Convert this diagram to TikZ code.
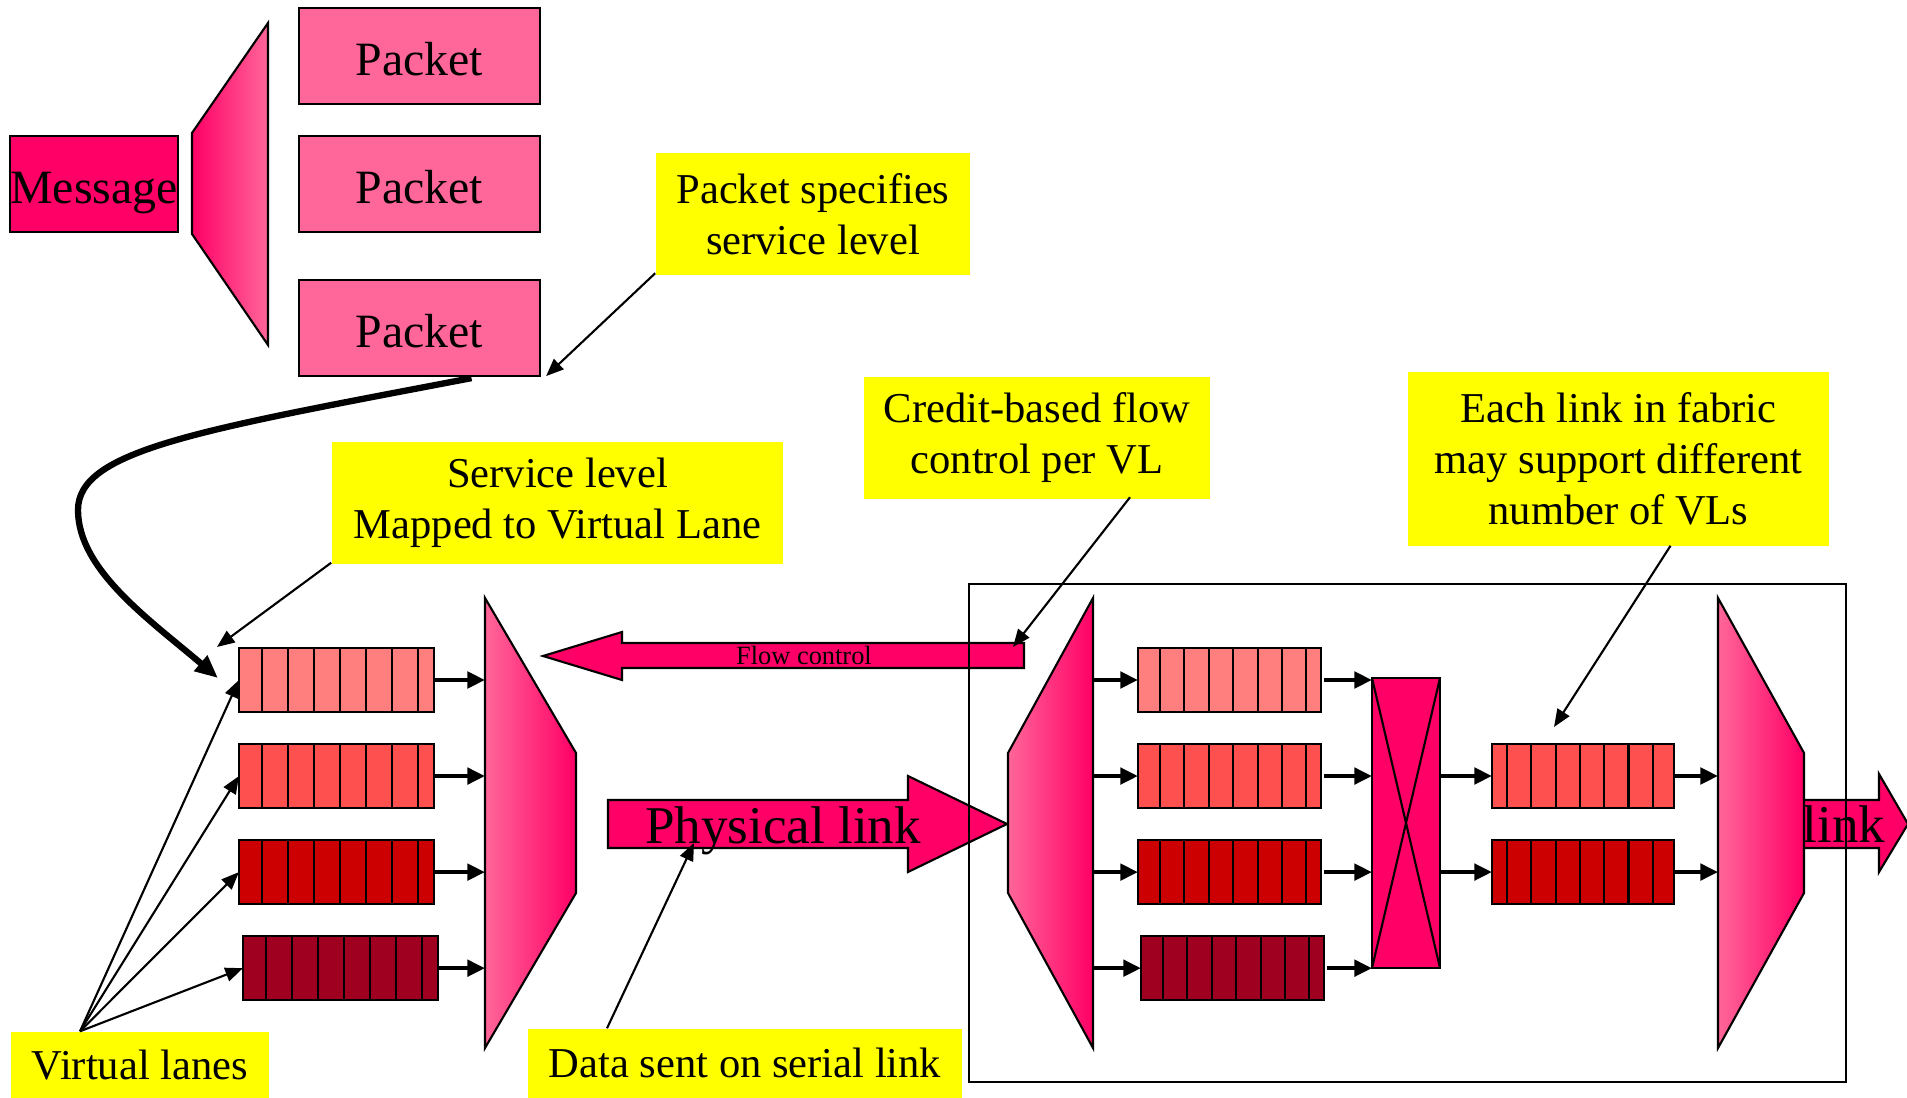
\documentclass[tikz,border=0pt]{standalone}
\usepackage{fontspec}
\setmainfont{Liberation Serif}
\usetikzlibrary{positioning,calc,arrows.meta}
\definecolor{msgpink}{HTML}{FF0066}
\definecolor{pktpink}{HTML}{FF6699}
\definecolor{noteyellow}{HTML}{FFFF00}
\definecolor{vlone}{HTML}{FF7F7F}
\definecolor{vltwo}{HTML}{FF5050}
\definecolor{vlthree}{HTML}{CC0000}
\definecolor{vlfour}{HTML}{A00020}
\tikzstyle{note}=[rectangle, fill=noteyellow, text centered, align=center, inner sep=0pt, font=\fontsize{12.1}{14.5}\selectfont]
\tikzstyle{pkt}=[rectangle, draw=black, line width=0.6pt, fill=pktpink, minimum width=2.41cm, minimum height=0.96cm, inner sep=0pt, outer sep=0pt, text height=0.44cm, text depth=0.05cm, font=\fontsize{13.6}{16}\selectfont]
\tikzstyle{vlq}=[rectangle, draw=black, line width=0.6pt, minimum height=0.64cm, inner sep=0pt, outer sep=0pt]
\tikzstyle{slot}=[line width=0.6pt]
\tikzstyle{mux}=[draw=black, line width=0.6pt, left color=pktpink, right color=msgpink]
\tikzstyle{bigarrow}=[draw=black, line width=0.6pt, fill=msgpink]
\tikzstyle{notearrow}=[-{Triangle[length=5pt, width=4pt]}, line width=0.6pt]
\tikzstyle{qarrow}=[-{Triangle[length=5pt, width=4.6pt]}, line width=1.2pt]
\tikzstyle{mainarrow}=[-{Triangle[length=6.5pt, width=5.5pt]}, line width=1.8pt]

\begin{document}
\begin{tikzpicture}[x=0.01cm, y=-0.01cm]
        \useasboundingbox (0,0) rectangle (1907,1098);

        % Message cut into packets
        \node (msg) [pkt, fill=msgpink, minimum width=1.64cm] at (94,184) {Message};
        \shadedraw[mux, left color=msgpink, right color=pktpink] (192,133) -- (268,23) -- (268,345) -- (192,234) -- cycle;
        \node (pkt2) [pkt] at (419.5,184) {Packet};
        \node (pkt1) [pkt, above=0.32cm of pkt2] {Packet};
        \node (pkt3) [pkt, below=0.48cm of pkt2] {Packet};

        % Notes
        \node (spec) [note, minimum width=3.14cm, minimum height=1.21cm] at (813,214) {Packet specifies\\service level};
        \node (svc) [note, minimum width=4.51cm, minimum height=1.22cm] at (557.5,503) {Service level\\Mapped to Virtual Lane};
        \node (credit) [note, minimum width=3.46cm, minimum height=1.21cm] at (1037,438) {Credit-based flow\\control per VL};
        \node (fabric) [note, minimum width=4.21cm, minimum height=1.74cm] at (1618.5,459) {Each link in fabric\\may support different\\number of VLs};
        \node (vlanes) [note, minimum width=2.58cm, minimum height=0.66cm, text height=0.31cm, text depth=0.03cm] at (140,1065) {Virtual lanes};
        \node (serial) [note, minimum width=4.34cm, minimum height=0.69cm, text height=0.31cm, text depth=0.03cm] at (745,1063.5) {Data sent on serial link};

        % Sending side: virtual lanes and mux
        \node (lq1) [vlq, fill=vlone, minimum width=1.95cm] at (336.5,680) {};
        \node (lq2) [vlq, fill=vltwo, minimum width=1.95cm, below=0.32cm of lq1] {};
        \node (lq3) [vlq, fill=vlthree, minimum width=1.95cm, below=0.32cm of lq2] {};
        \node (lq4) [vlq, fill=vlfour, minimum width=1.95cm, below=0.32cm of lq3, xshift=0.04cm] {};
        \foreach \q in {1,...,4}
            \foreach \k in {0,...,6}
                \draw[slot] ($(lq\q.north west)+(23+26*\k,0)$) -- ($(lq\q.south west)+(23+26*\k,0)$);

        \shadedraw[mux] (485,598) -- (576,753) -- (576,893) -- (485,1048) -- cycle;
        \coordinate (lmuxW) at (485,680);
        \foreach \q in {1,...,4}
            \draw[qarrow] (lq\q.east) -- (lq\q.east -| lmuxW);

        % Link and flow control
        \draw[bigarrow] (608,800) -- (908,800) -- (908,776) -- (1007,824) -- (908,872) -- (908,848) -- (608,848) -- cycle;
        \node (phys) [anchor=base, inner sep=0pt, font=\fontsize{15.1}{18}\selectfont] at (783,843) {Physical link};
        \coordinate (physdata) at (694,843);
        \draw[bigarrow] (1024,643) -- (622,643) -- (622,632) -- (543,656) -- (622,680) -- (622,668) -- (1024,668) -- cycle;
        \node (flow) [anchor=base, inner sep=0pt, font=\fontsize{7.5}{9}\selectfont] at (804,665) {Flow control};
        \coordinate (flowend) at (1013,647);

        % Receiving side: demux, virtual lanes, crossbar
        \shadedraw[mux] (1093,598) -- (1093,1048) -- (1008,893) -- (1008,753) -- cycle;
        \coordinate (rdemuxE) at (1093,680);
        \node (rq1) [vlq, fill=vlone, minimum width=1.83cm] at (1229.5,680) {};
        \node (rq2) [vlq, fill=vltwo, minimum width=1.83cm, below=0.32cm of rq1] {};
        \node (rq3) [vlq, fill=vlthree, minimum width=1.83cm, below=0.32cm of rq2] {};
        \node (rq4) [vlq, fill=vlfour, minimum width=1.83cm, below=0.32cm of rq3, xshift=0.03cm] {};
        \foreach \q in {1,...,4}
            \foreach \k in {0,...,6}
                \draw[slot] ($(rq\q.north west)+(22+24.4*\k,0)$) -- ($(rq\q.south west)+(22+24.4*\k,0)$);
        \foreach \q in {1,...,4}
            \draw[qarrow] (rq\q.west -| rdemuxE) -- (rq\q.west);

        \node (xbar) [rectangle, draw=black, line width=0.6pt, fill=msgpink, minimum width=0.68cm, minimum height=2.9cm, inner sep=0pt, outer sep=0pt] at (1406,823) {};
        \draw[slot] (xbar.north west) -- (xbar.south east);
        \draw[slot] (xbar.north east) -- (xbar.south west);
        \foreach \q in {1,...,4}
            \draw[qarrow] ($(rq\q.east)+(3,0)$) -- (rq\q.east -| xbar.west);

        % Next link
        \node (rqa) [vlq, fill=vltwo, minimum width=1.82cm] at (1583,776) {};
        \node (rqb) [vlq, fill=vlthree, minimum width=1.82cm, below=0.32cm of rqa] {};
        \foreach \q in {a,b}
            \foreach \k in {0,...,6}
                \draw[slot] ($(rq\q.north west)+(15+24.3*\k,0)$) -- ($(rq\q.south west)+(15+24.3*\k,0)$);
        \foreach \q in {a,b}
            \draw[qarrow] (xbar.east |- rq\q.west) -- (rq\q.west);

        \draw[bigarrow] (1760,800) -- (1879,800) -- (1879,774) -- (1908,824) -- (1879,872) -- (1879,848) -- (1760,848) -- cycle;
        \node (linkout) [anchor=base, inner sep=0pt, font=\fontsize{15.1}{18}\selectfont] at (1844,842) {link};
        \shadedraw[mux] (1718,598) -- (1804,753) -- (1804,893) -- (1718,1048) -- cycle;
        \coordinate (rmuxW) at (1718,776);
        \foreach \q in {a,b}
            \draw[qarrow] (rq\q.east) -- (rq\q.east -| rmuxW);

        \node (sw) [draw=black, line width=0.5pt, minimum width=8.77cm, minimum height=4.98cm, inner sep=0pt] at (1407.5,833) {};

        % Pointers
        \draw[mainarrow] ($(pkt3.south)+(52,2)$) .. controls (200,430) and (78,450) .. (78,510) .. controls (78,570) and (150,620) .. ($(lq1.west)+(-21,-2)$);
        \draw[notearrow] ($(spec.south west)+(0,-2)$) -- ($(pkt3.south east)+(6,0)$);
        \draw[notearrow] ($(svc.south west)+(0,-2)$) -- ($(lq1.north west)+(-22,-1)$);
        \draw[notearrow] ($(credit.south)+(93,-2)$) -- (flowend);
        \draw[notearrow] ($(fabric.south)+(52,-1)$) -- ($(rqa.north)+(-29,-17)$);
        \draw[notearrow] ($(serial.north)+(-138,0)$) -- (physdata);
        \foreach \q in {1,...,4}
            \draw[notearrow] ($(vlanes.north)+(-60,0)$) -- (lq\q.west);

\end{tikzpicture}
\end{document}
